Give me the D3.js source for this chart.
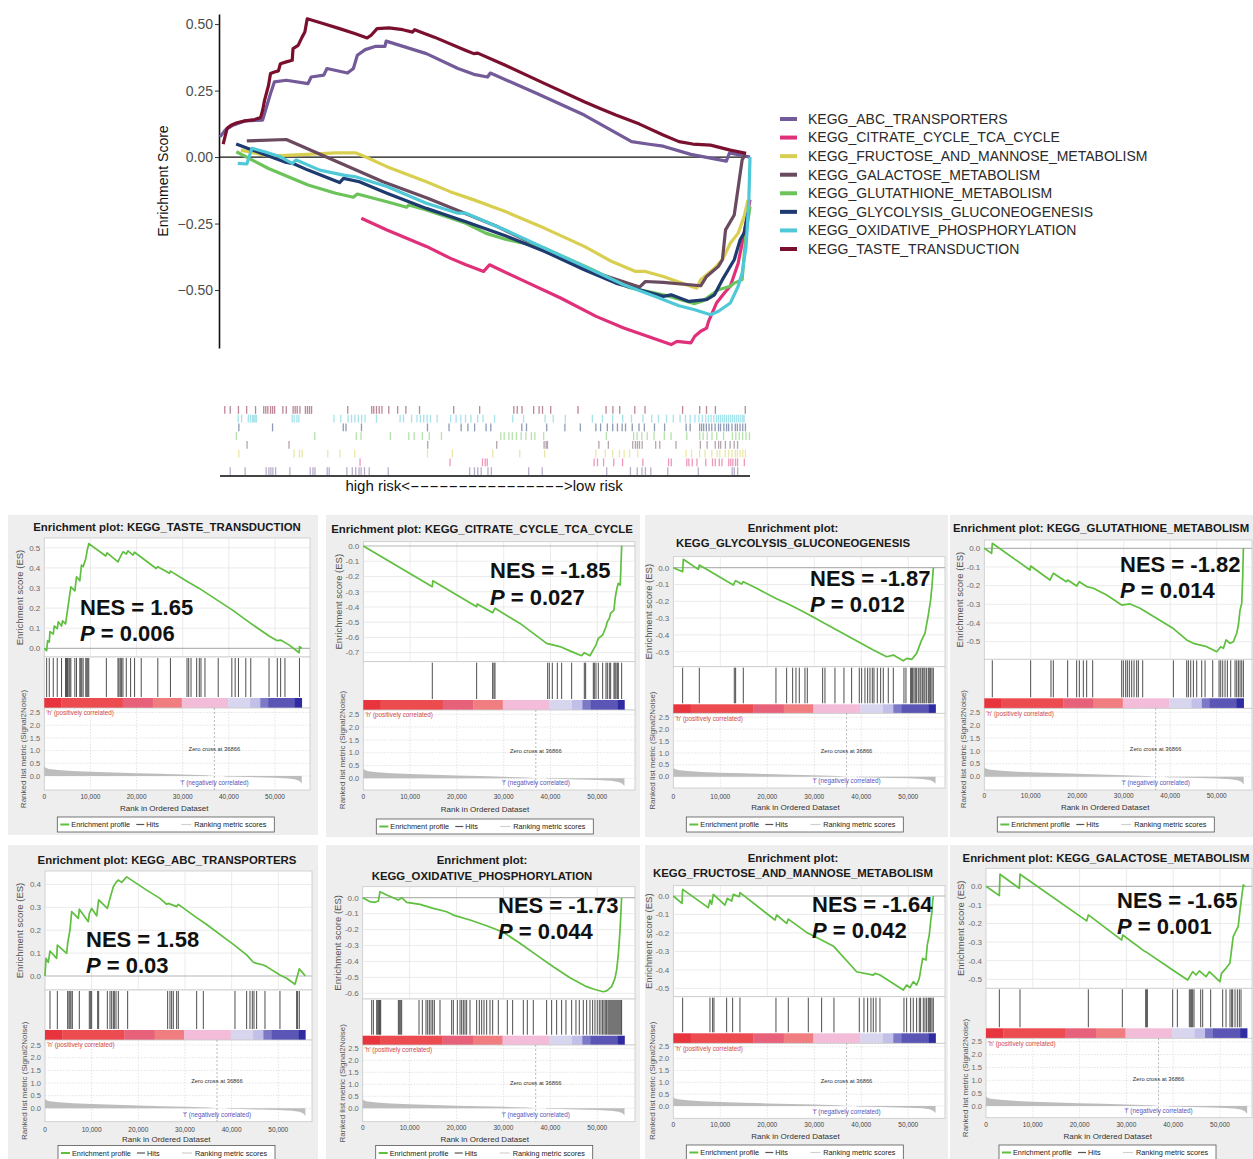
<!DOCTYPE html>
<html lang="en">
<head>
<meta charset="UTF-8">
<title>GSEA KEGG enrichment</title>
<script src="https://d3js.org/d3.v7.min.js"></script>
<style>
    html, body { margin: 0; background: #fff; }
    svg text { font-family: "Liberation Sans", Arial, Helvetica, sans-serif; }
</style>
</head>
<body>
<div id="vis"></div>
<script>
// ---------------- data ----------------
var N_RANKS = 55800;
var ZERO_CROSS = 36866;

var pathways = ['KEGG_ABC_TRANSPORTERS', 'KEGG_CITRATE_CYCLE_TCA_CYCLE', 'KEGG_FRUCTOSE_AND_MANNOSE_METABOLISM',
    'KEGG_GALACTOSE_METABOLISM', 'KEGG_GLUTATHIONE_METABOLISM', 'KEGG_GLYCOLYSIS_GLUCONEOGENESIS',
    'KEGG_OXIDATIVE_PHOSPHORYLATION', 'KEGG_TASTE_TRANSDUCTION'];
var pathwayColors = ['#735a98', '#e0307a', '#d8cf50', '#6a4a5f', '#6cc35a', '#1e3a6e', '#4fc8d8', '#7a0f2e'];

// overview curves: [rank, ES]
var topABC = [[0,0.076],[540,0.101],[1371,0.12],[2618,0.136],[4487,0.139],[4903,0.189],[5318,0.239],[5734,0.283],[6980,0.289],[9266,0.276],[9598,0.301],[10928,0.308],[11260,0.333],[13420,0.316],[14044,0.333],[14459,0.383],[15290,0.404],[16329,0.416],[17368,0.416],[17493,0.436],[21731,0.389],[25055,0.333],[26717,0.311],[28170,0.301],[28462,0.316],[33365,0.239],[38351,0.158],[43337,0.058],[44999,0.049],[46661,0.041],[49570,0.01],[53310,-0.015],[53642,0.016],[55802,0]];
var topCitrate = [[14875,-0.23],[17576,-0.274],[21731,-0.336],[24224,-0.38],[25886,-0.405],[27755,-0.43],[28379,-0.405],[31703,-0.461],[35858,-0.53],[39597,-0.599],[42506,-0.643],[44999,-0.674],[47492,-0.705],[48115,-0.693],[49570,-0.699],[49985,-0.674],[50609,-0.655],[51232,-0.643],[51440,-0.618],[52271,-0.549],[53102,-0.511],[53725,-0.486],[54556,-0.399],[55178,-0.286],[55802,-0.16]];
var topFructose = [[2202,0.026],[5111,0.004],[8019,0.008],[9681,0.011],[12174,0.016],[14252,0.016],[15290,0.001],[17576,-0.036],[21731,-0.093],[24224,-0.13],[26717,-0.161],[30041,-0.205],[34196,-0.268],[38351,-0.336],[41259,-0.393],[43752,-0.43],[44791,-0.43],[46661,-0.449],[49570,-0.486],[50193,-0.493],[50609,-0.461],[52063,-0.418],[52894,-0.386],[53725,-0.324],[54556,-0.286],[55178,-0.224],[55594,-0.161]];
var topGalactose = [[2825,0.061],[6980,0.066],[17160,-0.093],[21868,-0.155],[29133,-0.26],[34300,-0.35],[40000,-0.44],[44168,-0.489],[44791,-0.468],[46661,-0.471],[50609,-0.484],[51232,-0.449],[52478,-0.411],[52894,-0.386],[53226,-0.274],[54140,-0.218],[54971,-0.011],[55303,0.011]];
var topGlutathione = [[1722,0.02],[5111,-0.043],[9266,-0.105],[12174,-0.136],[14044,-0.151],[14459,-0.139],[17576,-0.168],[19653,-0.189],[19861,-0.18],[21731,-0.199],[25886,-0.249],[27963,-0.286],[30041,-0.309],[34000,-0.34],[39000,-0.42],[43000,-0.49],[44168,-0.499],[46661,-0.518],[49985,-0.551],[50816,-0.541],[52478,-0.499],[53725,-0.486],[54140,-0.474],[54971,-0.461],[55386,-0.286],[55802,-0.186]];
var topGlycolysis = [[1700,0.049],[3449,0.026],[5111,0.004],[6773,-0.018],[7812,-0.026],[9266,-0.049],[12590,-0.096],[13005,-0.08],[14667,-0.093],[17576,-0.136],[21731,-0.193],[25886,-0.243],[30041,-0.296],[34196,-0.355],[38351,-0.424],[41675,-0.474],[44168,-0.499],[46661,-0.524],[47492,-0.518],[49362,-0.543],[51232,-0.536],[52063,-0.518],[52894,-0.461],[54140,-0.386],[54763,-0.311],[55178,-0.286],[55594,-0.21]];
var topOxidative = [[1870,-0.024],[2825,-0.026],[3366,0.033],[4695,0.02],[6357,0.001],[7604,-0.024],[8019,-0.011],[10512,-0.049],[13005,-0.068],[14252,-0.074],[17576,-0.111],[21731,-0.174],[25055,-0.211],[25886,-0.211],[30041,-0.274],[34196,-0.343],[38351,-0.411],[42506,-0.48],[45830,-0.524],[48323,-0.559],[49985,-0.574],[51647,-0.593],[52478,-0.58],[53725,-0.549],[54556,-0.486],[54971,-0.436],[55386,-0.336],[55677,-0.161],[55802,0]];
var topTaste = [[332,0.049],[748,0.108],[1163,0.12],[1787,0.129],[2618,0.136],[3656,0.141],[4280,0.149],[4487,0.176],[4695,0.214],[5111,0.27],[5318,0.314],[5734,0.32],[6150,0.324],[6357,0.351],[6980,0.358],[7604,0.364],[7687,0.408],[8227,0.42],[8642,0.451],[8933,0.47],[9183,0.52],[10928,0.501],[12590,0.483],[14252,0.464],[15498,0.448],[15914,0.458],[16537,0.483],[17783,0.486],[19237,0.479],[20276,0.47],[20484,0.479],[22562,0.451],[25886,0.401],[26717,0.389],[27132,0.391],[30041,0.345],[34196,0.276],[38351,0.208],[40013,0.183],[41675,0.158],[44168,0.124],[46661,0.083],[48323,0.058],[49777,0.049],[51647,0.045],[53724,0.026],[55386,0.014]];

// running enrichment score of each single plot: [rank, ES]
var esABC = [[0,0],[214,0.077],[714,0.06],[1071,0.109],[2500,0.077],[2643,0.135],[4643,0.099],[4857,0.143],[5357,0.201],[5714,0.281],[7143,0.252],[7357,0.292],[9286,0.237],[9500,0.273],[10000,0.295],[11071,0.263],[11500,0.332],[13357,0.295],[13929,0.339],[14643,0.39],[15214,0.409],[15714,0.419],[16429,0.409],[17500,0.433],[21786,0.375],[24643,0.339],[26071,0.313],[26429,0.317],[28214,0.303],[28571,0.313],[32500,0.255],[34643,0.225],[40357,0.138],[43214,0.092],[44643,0.06],[45357,0.055],[46786,0.048],[47500,0.041],[50357,0.004],[51786,-0.01],[53571,-0.036],[54143,0.004],[54500,0.031],[55800,0]];
var esCitrate = [[0,0],[14745,-0.267],[14850,-0.228],[24218,-0.398],[24350,-0.38],[27637,-0.438],[28136,-0.409],[33478,-0.508],[39177,-0.639],[42000,-0.66],[44519,-0.693],[46650,-0.72],[47225,-0.7],[48437,-0.72],[49149,-0.68],[49718,-0.65],[50217,-0.606],[51143,-0.584],[51855,-0.53],[52140,-0.497],[52567,-0.475],[52852,-0.44],[53564,-0.42],[53778,-0.354],[53992,-0.31],[54277,-0.267],[54491,-0.245],[54900,-0.256],[55100,-0.092],[55203,-0.004],[55350,0]];
var esFructose = [[0,0],[1844,-0.04],[1986,0.036],[7447,-0.063],[7801,-0.022],[8156,-0.045],[8510,0.009],[10993,-0.049],[11489,-0.013],[12411,-0.027],[12766,0.009],[14042,-0.004],[14184,0.018],[21631,-0.13],[21986,-0.103],[24113,-0.148],[24467,-0.125],[28368,-0.197],[31559,-0.238],[34183,-0.274],[39006,-0.41],[42552,-0.428],[42907,-0.419],[43971,-0.428],[48935,-0.509],[49644,-0.482],[50353,-0.496],[51062,-0.464],[51772,-0.482],[52339,-0.446],[53048,-0.338],[53757,-0.347],[54041,-0.265],[54467,-0.211],[54750,-0.139],[55034,-0.085],[55176,-0.031],[55318,0]];
var esGalactose = [[0,0],[2849,-0.05],[2990,0.065],[7123,-0.011],[7265,0.065],[21511,-0.186],[21868,-0.154],[28990,-0.289],[29204,-0.262],[33977,-0.351],[34333,-0.355],[39889,-0.45],[43095,-0.504],[44163,-0.459],[44875,-0.477],[45587,-0.455],[47011,-0.486],[47723,-0.459],[49971,-0.513],[50328,-0.468],[51396,-0.437],[52108,-0.414],[52820,-0.27],[53889,-0.215],[54245,-0.136],[54601,-0.065],[54957,0.007],[55313,0]];
var esGlutathione = [[0,0],[1578,-0.027],[1722,0.027],[9828,-0.116],[9972,-0.095],[14133,-0.17],[14490,-0.152],[14850,-0.134],[17648,-0.179],[17935,-0.17],[19872,-0.202],[20446,-0.179],[22024,-0.205],[23459,-0.214],[26330,-0.25],[29557,-0.304],[31351,-0.298],[33503,-0.321],[40677,-0.43],[43547,-0.491],[44982,-0.509],[47852,-0.527],[50004,-0.554],[50864,-0.527],[51438,-0.536],[52012,-0.491],[52873,-0.509],[53590,-0.5],[54308,-0.455],[54667,-0.411],[55025,-0.33],[55384,-0.295],[55599,-0.152],[55742,0]];
var esGlycolysis = [[0,0],[1986,-0.024],[2128,0.05],[5319,-0.01],[5532,0.016],[12766,-0.103],[13262,-0.077],[14539,-0.097],[14893,-0.083],[17730,-0.123],[21843,-0.183],[24113,-0.212],[26240,-0.242],[28368,-0.272],[35460,-0.381],[42552,-0.49],[45389,-0.53],[46808,-0.52],[48935,-0.554],[49644,-0.54],[50708,-0.546],[51772,-0.51],[52835,-0.431],[53545,-0.391],[54254,-0.282],[54750,-0.192],[55034,-0.113],[55318,-0.004],[55390,0]];
var esOxidative = [[0,0],[1562,-0.025],[2628,-0.029],[3338,-0.021],[3693,0.038],[5113,0.017],[7599,-0.015],[8309,0],[9375,-0.029],[12215,-0.042],[15056,-0.067],[17897,-0.088],[19317,-0.109],[22868,-0.14],[26419,-0.176],[29970,-0.217],[33521,-0.286],[37072,-0.36],[40623,-0.433],[44174,-0.502],[47725,-0.558],[49146,-0.573],[51276,-0.59],[51987,-0.585],[53052,-0.558],[53762,-0.506],[54117,-0.454],[54472,-0.36],[54827,-0.213],[55040,-0.088],[55182,0]];
var esTaste = [[0,0],[504,-0.012],[719,0.038],[1079,0.031],[1223,0.083],[1942,0.071],[2158,0.111],[2806,0.098],[3021,0.132],[3741,0.111],[3957,0.137],[4604,0.121],[5036,0.19],[5396,0.248],[5755,0.306],[6618,0.286],[6978,0.356],[7697,0.336],[8057,0.414],[8417,0.406],[8992,0.447],[9280,0.485],[9640,0.521],[13309,0.459],[13597,0.475],[15971,0.43],[16474,0.455],[17050,0.48],[17769,0.469],[18129,0.485],[19208,0.464],[19568,0.478],[24244,0.397],[24603,0.406],[27121,0.373],[27337,0.384],[30718,0.336],[33596,0.298],[40790,0.19],[44747,0.124],[48704,0.061],[50501,0.038],[51221,0.041],[53020,0.017],[55250,-0.022],[55300,0.008],[55800,0]];

// gene set hit positions (rank in ordered dataset)
var hitsABC = [1071,2643,4857,5143,5357,5571,5857,7357,9500,9786,10000,11286,11500,13357,13929,14286,14643,14857,15214,15714,17714,26286,26786,27143,27500,28214,28571,32500,33929,40714,43214,43929,44429,44786,45357,47143,50357,53929,54143,54500];
var hitsCitrate = [14745,24218,27637,27922,28136,39390,39746,40387,41456,42382,44519,47225,47510,49149,49362,49718,50217,51143,51855,52140,52567,52852,53564,53778,53992,54277,54491,55203];
var hitsFructose = [1986,7801,8369,8652,11347,12624,14184,21843,24467,28723,31559,34183,39573,40566,41347,42056,42552,43120,43971,49078,49645,50496,51063,51773,52340,52624,53191,53546,53900,54255,54468,54752,55035,55319];
var hitsGalactose = [2849,7265,21868,29133,34119,34333,34475,39889,40886,43450,43735,43949,44163,44447,45872,46299,48009,50573,51286,52140,52497,52710,53209,53707,54135,54491];
var hitsGlutathione = [1722,9972,14348,14850,17935,19872,20446,21307,22024,23316,29557,29916,30418,30777,31207,31710,32211,32785,33144,34077,40677,43547,43905,44408,44982,45699,46775,47493,49143,50505,50864,51295,51797,52299,53016,53949,54308,54667,55025,55384,55742];
var hitsGlycolysis = [1986,5532,12978,13262,14893,21843,24113,25389,26099,26808,28013,28510,31772,32269,34396,36311,37942,39573,40070,40780,41347,41844,42340,42695,43404,44113,44680,45744,46808,49078,49500,50496,50708,50921,51205,51489,51773,52128,52482,52695,53050,53333,53546,53900,54255,54468,54752,55035,55319];
var hitsOxidative = [1918,2273,2983,3196,3409,3551,3693,3835,7599,7812,8096,8309,12002,12713,13494,13849,14204,14559,14914,15269,16477,18962,19317,20170,20738,21093,21448,21803,22158,22868,24289,24857,25354,25851,26420,27130,27698,28905,30823,31959,34232,35084,36362,39203,40268,41334,42399,43322,44530,45453,46163,47015,47725,48436,49004,49501,49998,50424,50779,51134,51419,51703,51987,52271,52484,52697,52910,53123,53336,53549,53762,53975,54188,54401,54614,54827,55040,55182];
var hitsTaste = [504,1079,1942,2806,3741,4604,4820,5036,5324,5539,5755,6618,6978,7697,7913,8129,8417,8992,9208,9424,9640,13453,15971,16186,16474,16762,17050,17769,18704,19568,21006,24603,27337,30934,31294,31798,33021,33596,33956,34819,37697,40646,41366,42085,43668,44747,48704,50501,51221,52156,55300];

var topCurves = [topABC, topCitrate, topFructose, topGalactose, topGlutathione, topGlycolysis, topOxidative, topTaste];
var esCurves = [esABC, esCitrate, esFructose, esGalactose, esGlutathione, esGlycolysis, esOxidative, esTaste];
var hitSets = [hitsABC, hitsCitrate, hitsFructose, hitsGalactose, hitsGlutathione, hitsGlycolysis, hitsOxidative, hitsTaste];

var topTicks = [0.5, 0.25, 0, -0.25, -0.5];

// single plots, in reading order (index into pathways)
var panelOrder = [7, 1, 5, 4, 0, 6, 2, 3];
var nesValues = [1.65, -1.85, -1.87, -1.82, 1.58, -1.73, -1.64, -1.65];
var pValues = ['0.006', '0.027', '0.012', '0.014', '0.03', '0.044', '0.042', '0.001'];
var panelEsTicks = [
    [0, 0.1, 0.2, 0.3, 0.4, 0.5],
    [0, -0.1, -0.2, -0.3, -0.4, -0.5, -0.6, -0.7],
    [0, -0.1, -0.2, -0.3, -0.4, -0.5],
    [0, -0.1, -0.2, -0.3, -0.4, -0.5],
    [0, 0.1, 0.2, 0.3, 0.4],
    [0, -0.1, -0.2, -0.3, -0.4, -0.5, -0.6],
    [0, -0.1, -0.2, -0.3, -0.4, -0.5],
    [0, -0.1, -0.2, -0.3, -0.4, -0.5]
];
var rankTicks = [0, 0.5, 1, 1.5, 2, 2.5];
var rankAxisTicks = [0, 10000, 20000, 30000, 40000, 50000];

// ranked list metric (Signal2Noise), same list for every plot
var rankMetric = [[0,0.38],[300,0.32],[1000,0.28],[3000,0.24],[6000,0.2],[10000,0.17],[15000,0.14],[20000,0.11],[25000,0.085],[30000,0.06],[35000,0.03],[36866,0],[38800,0],[39200,-0.02],[42000,-0.03],[46000,-0.05],[50000,-0.07],[53000,-0.1],[54500,-0.14],[55300,-0.2],[55800,-0.3]];
var barBreaks = [0, 3700, 17000, 23500, 29800, 39800, 44600, 46800, 48500, 54300, 55800];
var barColors = ['#e8343c', '#ec4b50', '#e8617a', '#f07d80', '#f3bcd8', '#d8d5ef', '#c2bfe8', '#7c79c9', '#5b56b6', '#2f2ba0'];

// ---------------- layout ----------------
var panelLayout = [
    {bg:[8,515,310,320], wrap:false, tx:167, anchor:'middle', titleY:[527], left:44.3, x50:275, right:310, esTop:538, esZero:648.3, esUnit:201, esBottom:657, hitsBottom:698, barBottom:708, rankZero:776, rankUnit:25.4, rankBottom:790, tickY:797, xTitleY:808, legendY:817, nesX:80, nesY:615, pY:641},
    {bg:[326,515,314,322], wrap:false, tx:482, anchor:'middle', titleY:[529], left:363.3, x50:597.3, right:635, esTop:541.7, esZero:546, esUnit:152.4, esBottom:661.7, hitsBottom:700, barBottom:710, rankZero:778.3, rankUnit:25.6, rankBottom:790, tickY:797, xTitleY:809, legendY:819, nesX:490, nesY:578, pY:605},
    {bg:[645,515,303,322], wrap:true, tx:793, anchor:'middle', titleY:[528,543], left:673.3, x50:908.3, right:945, esTop:556.7, esZero:567.7, esUnit:168, esBottom:666.7, hitsBottom:704.3, barBottom:713.3, rankZero:776.7, rankUnit:23.8, rankBottom:788, tickY:797, xTitleY:807, legendY:817, nesX:810, nesY:586, pY:612},
    {bg:[950,515,303,322], wrap:false, tx:953, anchor:'start', titleY:[528], left:984.3, x50:1216.7, right:1252, esTop:540, esZero:548.3, esUnit:186.7, esBottom:659.3, hitsBottom:698.3, barBottom:708.3, rankZero:776.7, rankUnit:25.8, rankBottom:790, tickY:796, xTitleY:807, legendY:817, nesX:1120, nesY:572, pY:598},
    {bg:[8,845,310,314], wrap:false, tx:167, anchor:'middle', titleY:[860], left:45, x50:278.3, right:312, esTop:871, esZero:976, esUnit:229, esBottom:990, hitsBottom:1030, barBottom:1040, rankZero:1108.3, rankUnit:25.3, rankBottom:1121.7, tickY:1130, xTitleY:1139, legendY:1145.5, nesX:86, nesY:947, pY:973},
    {bg:[326,845,314,314], wrap:true, tx:482, anchor:'middle', titleY:[860,876], left:362.7, x50:597.3, right:635, esTop:886.7, esZero:897.7, esUnit:159.4, esBottom:999, hitsBottom:1035.7, barBottom:1045, rankZero:1108.3, rankUnit:24, rankBottom:1121.7, tickY:1128, xTitleY:1139, legendY:1145.5, nesX:498, nesY:913, pY:939},
    {bg:[645,845,303,314], wrap:true, tx:793, anchor:'middle', titleY:[858,873], left:673.3, x50:908.3, right:945, esTop:885.7, esZero:896, esUnit:184.7, esBottom:996.7, hitsBottom:1033.3, barBottom:1043.3, rankZero:1106, rankUnit:23.7, rankBottom:1118.3, tickY:1125, xTitleY:1136.5, legendY:1145, nesX:812, nesY:912, pY:938},
    {bg:[950,845,303,314], wrap:false, tx:1106, anchor:'middle', titleY:[858], left:986, x50:1220, right:1252, esTop:868.3, esZero:886.3, esUnit:186, esBottom:988.3, hitsBottom:1028.3, barBottom:1038.3, rankZero:1106, rankUnit:25.7, rankBottom:1117.7, tickY:1125, xTitleY:1136.5, legendY:1145, nesX:1117, nesY:908, pY:934}
];

var width = 1253, height = 1159;
var svg = d3.select('#vis').append('svg')
    .attr('width', width)
    .attr('height', height);

// ---------------- overview chart ----------------
var top_x = d3.scaleLinear().domain([0, N_RANKS]).range([220, 750]);
var top_y = d3.scaleLinear().domain([-0.718, 0.538]).range([348, 14]);

var yAxis = svg.append('g')
    .attr('transform', 'translate(219,0)')
    .call(d3.axisLeft(top_y).tickValues(topTicks).tickFormat(d3.format('.2f')).tickSize(4).tickSizeOuter(0));
yAxis.select('.domain').attr('stroke', '#111').attr('stroke-width', 1.6);
yAxis.selectAll('.tick line').attr('stroke', '#333');
yAxis.selectAll('.tick text').attr('fill', '#4d4d4d').style('font-size', '14px').attr('x', -6);

svg.append('text')
    .attr('transform', 'translate(163,181) rotate(-90)')
    .attr('text-anchor', 'middle')
    .attr('dy', '0.35em')
    .style('font-size', '14px')
    .attr('fill', '#111')
    .text('Enrichment Score');

svg.append('line')
    .attr('x1', 219).attr('x2', 750)
    .attr('y1', top_y(0)).attr('y2', top_y(0))
    .attr('stroke', '#111').attr('stroke-width', 1.2);

var topLine = d3.line()
    .x(function(d) { return top_x(d[0]); })
    .y(function(d) { return top_y(d[1]); });

topCurves.forEach(function(c, i) {
    svg.append('path')
        .datum(c)
        .attr('d', topLine)
        .attr('fill', 'none')
        .attr('stroke', pathwayColors[i])
        .attr('stroke-width', 3.2)
        .attr('stroke-linejoin', 'round');
});

// legend
pathways.forEach(function(name, i) {
    var ly = 119 + i * 18.57;
    svg.append('line')
        .attr('x1', 780).attr('x2', 797)
        .attr('y1', ly).attr('y2', ly)
        .attr('stroke', pathwayColors[i]).attr('stroke-width', 4);
    svg.append('text')
        .attr('x', 808).attr('y', ly).attr('dy', '0.35em')
        .style('font-size', '14px')
        .attr('fill', '#2a2a2a')
        .text(name);
});

// hit rows under the overview
var rowScale = d3.scaleBand()
    .domain(pathways.slice().reverse())
    .range([406, 475])
    .paddingInner(0.1);

pathways.forEach(function(name, i) {
    svg.append('g').selectAll('line')
        .data(hitSets[i])
        .enter()
        .append('line')
        .attr('x1', function(d) { return top_x(d); })
        .attr('x2', function(d) { return top_x(d); })
        .attr('y1', rowScale(name))
        .attr('y2', rowScale(name) + rowScale.bandwidth())
        .attr('stroke', pathwayColors[i])
        .attr('stroke-opacity', 0.5)
        .attr('stroke-width', 1.3);
});

svg.append('line')
    .attr('x1', 220).attr('x2', 750)
    .attr('y1', 476).attr('y2', 476)
    .attr('stroke', '#444').attr('stroke-width', 2);

svg.append('text')
    .attr('x', 410).attr('y', 486).attr('dy', '0.35em')
    .attr('text-anchor', 'end')
    .style('font-size', '15px').attr('fill', '#111')
    .text('high risk<');
svg.append('text')
    .attr('x', 410).attr('y', 486).attr('dy', '0.35em')
    .attr('textLength', 154).attr('lengthAdjust', 'spacingAndGlyphs')
    .style('font-size', '15px').attr('fill', '#111')
    .text('----------------');
svg.append('text')
    .attr('x', 564).attr('y', 486).attr('dy', '0.35em')
    .style('font-size', '15px').attr('fill', '#111')
    .text('>low risk');

// ---------------- single enrichment plots ----------------
function fmt1(v) {
    return (Math.abs(v) < 1e-9 ? 0 : v).toFixed(1);
}

function drawPanel(p, k) {
    var idx = panelOrder[k];
    var name = pathways[idx];
    var g = svg.append('g');

    var x = d3.scaleLinear().domain([0, 50000]).range([p.left, p.x50]);
    var yEs = d3.scaleLinear().domain([0, 1]).range([p.esZero, p.esZero - p.esUnit]);
    var yRank = d3.scaleLinear().domain([0, 1]).range([p.rankZero, p.rankZero - p.rankUnit]);
    var plotW = p.right - p.left;

    g.append('rect')
        .attr('x', p.bg[0]).attr('y', p.bg[1])
        .attr('width', p.bg[2]).attr('height', p.bg[3])
        .attr('fill', '#eeeeee');

    var titleLines = p.wrap ? ['Enrichment plot:', name] : ['Enrichment plot: ' + name];
    titleLines.forEach(function(t, i) {
        g.append('text')
            .attr('x', p.tx).attr('y', p.titleY[i]).attr('dy', '0.35em')
            .attr('text-anchor', p.anchor)
            .style('font-size', '11.4px').style('font-weight', 'bold')
            .attr('fill', '#1a1a1a')
            .text(t);
    });

    // enrichment score plot
    g.append('rect')
        .attr('x', p.left).attr('y', p.esTop)
        .attr('width', plotW).attr('height', p.esBottom - p.esTop)
        .attr('fill', '#fff').attr('stroke', '#c8c8c8').attr('stroke-width', 0.8);

    g.selectAll('.vgrid')
        .data(rankAxisTicks.slice(1))
        .enter().append('line')
        .attr('x1', function(d) { return x(d); }).attr('x2', function(d) { return x(d); })
        .attr('y1', p.esTop).attr('y2', p.esBottom)
        .attr('stroke', '#e6e6e6').attr('stroke-width', 0.8);

    g.selectAll('.hgrid')
        .data(panelEsTicks[k])
        .enter().append('line')
        .attr('x1', p.left).attr('x2', p.right)
        .attr('y1', function(d) { return yEs(d); }).attr('y2', function(d) { return yEs(d); })
        .attr('stroke', function(d) { return d === 0 ? '#b5b5b5' : '#e6e6e6'; })
        .attr('stroke-width', function(d) { return d === 0 ? 1.2 : 0.8; });

    g.selectAll('.estick')
        .data(panelEsTicks[k])
        .enter().append('text')
        .attr('x', p.left - 4).attr('y', function(d) { return yEs(d); }).attr('dy', '0.35em')
        .attr('text-anchor', 'end')
        .style('font-size', '8px')
        .attr('fill', '#6a6a6a')
        .text(fmt1);

    g.append('path')
        .datum(esCurves[idx])
        .attr('d', d3.line()
            .x(function(d) { return x(d[0]); })
            .y(function(d) { return yEs(d[1]); }))
        .attr('fill', 'none')
        .attr('stroke', '#5fbf3f')
        .attr('stroke-width', 1.7)
        .attr('stroke-linejoin', 'round');

    g.append('text')
        .attr('transform', 'translate(' + (p.left - 25) + ',' + ((p.esTop + p.esBottom) / 2) + ') rotate(-90)')
        .attr('text-anchor', 'middle').attr('dy', '0.35em')
        .style('font-size', '9.5px')
        .attr('fill', '#555')
        .text('Enrichment score (ES)');

    // hits
    g.append('rect')
        .attr('x', p.left).attr('y', p.esBottom)
        .attr('width', plotW).attr('height', p.barBottom - p.esBottom)
        .attr('fill', '#fff').attr('stroke', '#c8c8c8').attr('stroke-width', 0.8);

    g.selectAll('.hit')
        .data(hitSets[idx])
        .enter().append('line')
        .attr('x1', function(d) { return x(d); }).attr('x2', function(d) { return x(d); })
        .attr('y1', p.esBottom + 1).attr('y2', p.hitsBottom - 1)
        .attr('stroke', '#3a3a3a').attr('stroke-width', 0.9);

    // colour bar
    g.selectAll('.seg')
        .data(barColors)
        .enter().append('rect')
        .attr('x', function(d, i) { return x(barBreaks[i]); })
        .attr('width', function(d, i) { return x(barBreaks[i + 1]) - x(barBreaks[i]) + 0.3; })
        .attr('y', p.hitsBottom).attr('height', p.barBottom - p.hitsBottom)
        .attr('fill', function(d) { return d; });

    // ranked list metric
    g.append('rect')
        .attr('x', p.left).attr('y', p.barBottom)
        .attr('width', plotW).attr('height', p.rankBottom - p.barBottom)
        .attr('fill', '#fff').attr('stroke', '#c8c8c8').attr('stroke-width', 0.8);

    g.selectAll('.rgrid')
        .data(rankTicks)
        .enter().append('line')
        .attr('x1', p.left).attr('x2', p.right)
        .attr('y1', function(d) { return yRank(d); }).attr('y2', function(d) { return yRank(d); })
        .attr('stroke', '#d8d8d8').attr('stroke-width', 0.7).attr('stroke-dasharray', '1.5,1.5');

    g.selectAll('.rvgrid')
        .data(rankAxisTicks.slice(1))
        .enter().append('line')
        .attr('x1', function(d) { return x(d); }).attr('x2', function(d) { return x(d); })
        .attr('y1', p.barBottom).attr('y2', p.rankBottom)
        .attr('stroke', '#d8d8d8').attr('stroke-width', 0.7).attr('stroke-dasharray', '1.5,1.5');

    g.append('path')
        .datum(rankMetric)
        .attr('d', d3.area()
            .x(function(d) { return x(d[0]); })
            .y0(yRank(0))
            .y1(function(d) { return yRank(d[1]); }))
        .attr('fill', '#bdbdbd');

    g.append('line')
        .attr('x1', x(ZERO_CROSS)).attr('x2', x(ZERO_CROSS))
        .attr('y1', p.barBottom).attr('y2', p.rankBottom)
        .attr('stroke', '#8a8a8a').attr('stroke-width', 0.6).attr('stroke-dasharray', '2,2');

    g.selectAll('.rtick')
        .data(rankTicks)
        .enter().append('text')
        .attr('x', p.left - 4).attr('y', function(d) { return yRank(d); }).attr('dy', '0.35em')
        .attr('text-anchor', 'end')
        .style('font-size', '7.5px')
        .attr('fill', '#6a6a6a')
        .text(fmt1);

    g.append('text')
        .attr('x', p.left + 2).attr('y', p.barBottom + 5).attr('dy', '0.35em')
        .style('font-size', '6.3px')
        .attr('fill', '#d24848')
        .text("'h' (positively correlated)");

    g.append('text')
        .attr('x', x(ZERO_CROSS)).attr('y', yRank(1.07)).attr('dy', '0.35em')
        .attr('text-anchor', 'middle')
        .style('font-size', '5.8px')
        .attr('fill', '#333')
        .text('Zero cross at ' + ZERO_CROSS);

    g.append('text')
        .attr('x', x(ZERO_CROSS)).attr('y', p.rankBottom - 7).attr('dy', '0.35em')
        .attr('text-anchor', 'middle')
        .style('font-size', '6.3px')
        .attr('fill', '#5555bb')
        .text("'f' (negatively correlated)");

    g.append('text')
        .attr('transform', 'translate(' + (p.left - 21) + ',' + ((p.barBottom + p.rankBottom) / 2) + ') rotate(-90)')
        .attr('text-anchor', 'middle').attr('dy', '0.35em')
        .style('font-size', '8px')
        .attr('fill', '#555')
        .text('Ranked list metric (Signal2Noise)');

    g.selectAll('.xtick')
        .data(rankAxisTicks)
        .enter().append('text')
        .attr('x', function(d) { return x(d); }).attr('y', p.tickY).attr('dy', '0.35em')
        .attr('text-anchor', 'middle')
        .style('font-size', '6.5px')
        .attr('fill', '#444')
        .text(d3.format(','));

    g.append('text')
        .attr('x', x(26000)).attr('y', p.xTitleY).attr('dy', '0.35em')
        .attr('text-anchor', 'middle')
        .style('font-size', '8px')
        .attr('fill', '#333')
        .text('Rank in Ordered Dataset');

    // legend box
    var lx = p.left + 13, ly = p.legendY, lm = ly + 7.5;
    g.append('rect')
        .attr('x', lx).attr('y', ly).attr('width', 217).attr('height', 15)
        .attr('fill', '#fff').attr('stroke', '#555').attr('stroke-width', 0.8);
    var legendItems = [
        {x1: 3, x2: 12, c: '#5fbf3f', w: 2, label: 'Enrichment profile', tx: 14},
        {x1: 79, x2: 87, c: '#555', w: 1.2, label: 'Hits', tx: 89},
        {x1: 124, x2: 134, c: '#d0d0d0', w: 1.2, label: 'Ranking metric scores', tx: 137}
    ];
    legendItems.forEach(function(it) {
        g.append('line')
            .attr('x1', lx + it.x1).attr('x2', lx + it.x2)
            .attr('y1', lm).attr('y2', lm)
            .attr('stroke', it.c).attr('stroke-width', it.w);
        g.append('text')
            .attr('x', lx + it.tx).attr('y', lm).attr('dy', '0.35em')
            .style('font-size', '7.3px')
            .attr('fill', '#222')
            .text(it.label);
    });

    // NES and P value
    g.append('text')
        .attr('x', p.nesX).attr('y', p.nesY)
        .style('font-size', '22px').style('font-weight', 'bold')
        .attr('fill', '#111')
        .text('NES = ' + nesValues[k].toFixed(2));
    var pt = g.append('text')
        .attr('x', p.nesX).attr('y', p.pY)
        .style('font-size', '22px').style('font-weight', 'bold')
        .attr('fill', '#111');
    pt.append('tspan').style('font-style', 'italic').text('P');
    pt.append('tspan').text(' = ' + pValues[k]);
}

panelLayout.forEach(drawPanel);
</script>
</body>
</html>
